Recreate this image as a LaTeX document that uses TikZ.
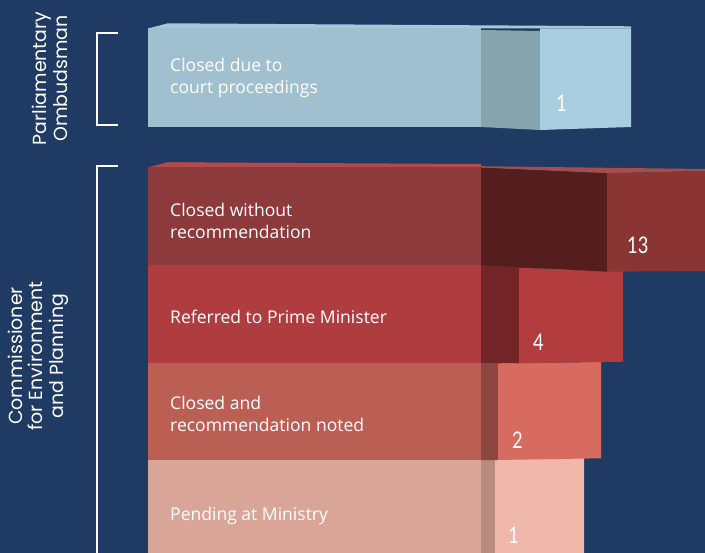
\documentclass[tikz,border=0pt]{standalone}
\usepackage{fontspec}
\setmainfont{Open Sans}
\newfontfamily\sidefont{Poppins}
\newfontfamily\numfont{Lato}
\definecolor{bg}{HTML}{1F3A63}
\definecolor{btop}{HTML}{A9C8D7}
\definecolor{bfront}{HTML}{A0C0CF}
\definecolor{bside}{HTML}{86A5AF}
\definecolor{bright}{HTML}{A8CEDF}
\definecolor{rAtopA}{HTML}{B6494B}
\definecolor{rAtopB}{HTML}{A24F4E}
\definecolor{rAfront}{HTML}{8D3A3C}
\definecolor{rAside}{HTML}{541E1E}
\definecolor{rAright}{HTML}{8A3533}
\definecolor{rBfront}{HTML}{AF3D3F}
\definecolor{rBside}{HTML}{732427}
\definecolor{rBright}{HTML}{B33C3F}
\definecolor{rCfront}{HTML}{BB5F55}
\definecolor{rCside}{HTML}{8B4740}
\definecolor{rCright}{HTML}{D76B60}
\definecolor{rDfront}{HTML}{D8A598}
\definecolor{rDside}{HTML}{B88B81}
\definecolor{rDright}{HTML}{EFB8AA}
\tikzset{
  barlabel/.style={anchor=west, inner sep=0pt, align=left, text=white,
    font=\fontsize{17.6}{21.5}\selectfont},
  barnum/.style={anchor=west, inner sep=0pt, text=white,
    font=\numfont\fontsize{23}{23}\selectfont},
  grouplabel/.style={rotate=90, inner sep=0pt, align=center, text=white,
    font=\sidefont\fontsize{19}{20.5}\selectfont},
  bracket/.style={draw=white, line width=1.4pt}
}
\begin{document}
\begin{tikzpicture}[x=1bp,y=-1bp]
\fill[bg] (0,0) rectangle (705,553);
\useasboundingbox (0,0) rectangle (705,553);
\begin{scope}
\clip (0,0) rectangle (705,553);
% row 4
\fill[rDfront] (148,460) rectangle (481,560);
\fill[rDside] (481,460) -- (495,460) -- (495,560) -- (481,560) -- cycle;
\fill[rDright] (495,459) -- (584,458) -- (584,560) -- (495,560) -- cycle;
% row 3
\fill[rCfront] (148,362.5) rectangle (481,460);
\fill[rCside] (481,362.5) -- (498,363) -- (498,460) -- (481,460) -- cycle;
\fill[rCright] (498,363.3) -- (601,362) -- (601,458.3) -- (498,460) -- cycle;
% row 2
\fill[rBfront] (148,265) rectangle (481,362.5);
\fill[rBside] (481,265) -- (519,267) -- (519,363.3) -- (481,362.5) -- cycle;
\fill[rBright] (519,268) -- (623,270) -- (623,361.7) -- (519,363.3) -- cycle;
% row 1
\fill[rAtopB] (148,167.5) -- (168,162.3) -- (705,169) -- (705,171) -- (607,173.3) -- (481,167.7) -- cycle;
\fill[rAtopA] (148,167.5) -- (168,162.3) -- (481,164) -- (481,167.7) -- cycle;
\fill[rAfront] (148,167.5) rectangle (481,265);
\fill[rAside] (481,167.7) -- (607,173.3) -- (607,271.7) -- (481,265) -- cycle;
\fill[rAright] (607,173.3) -- (705,171) -- (705,271) -- (607,271.7) -- cycle;
% blue bar
\fill[btop] (148,28.5) -- (168,23.3) -- (631,26.3) -- (631,28.5) -- cycle;
\fill[bfront] (148,28.5) rectangle (481,127);
\fill[bside] (481,30) -- (540,31) -- (540,130) -- (481,127) -- cycle;
\fill[bright] (540,28.5) -- (631,28.5) -- (631,127) -- (540,130) -- cycle;
\end{scope}
% labels
\node[barlabel] (l0) at (170,78) {Closed due to\\court proceedings};
\node[barlabel] (l1) at (170,221) {Closed without\\recommendation};
\node[barlabel] (l2) at (170,317) {Referred to Prime Minister};
\node[barlabel] (l3) at (170,414) {Closed and\\recommendation noted};
\node[barlabel] (l4) at (170,516) {Pending at Ministry};
% numbers
\node[barnum] (n0) at (556,103) {\scalebox{0.8}[1]{1}};
\node[barnum] (n1) at (627,245) {\scalebox{0.8}[1]{13}};
\node[barnum] (n2) at (533,342) {\scalebox{0.8}[1]{4}};
\node[barnum] (n3) at (512,440) {\scalebox{0.8}[1]{2}};
\node[barnum] (n4) at (508,535) {\scalebox{0.8}[1]{1}};
% brackets
\draw[bracket] (118,33) -- (97,33) -- (97,125) -- (118,125);
\draw[bracket] (118,166) -- (97,166) -- (97,556);
% group labels
\node[grouplabel] (g0) at (50,78.5) {Parliamentary\\Ombudsman};
\node[grouplabel] (g1) at (38,356) {Commissioner\\for Environment\\and Planning};
\end{tikzpicture}
\end{document}
